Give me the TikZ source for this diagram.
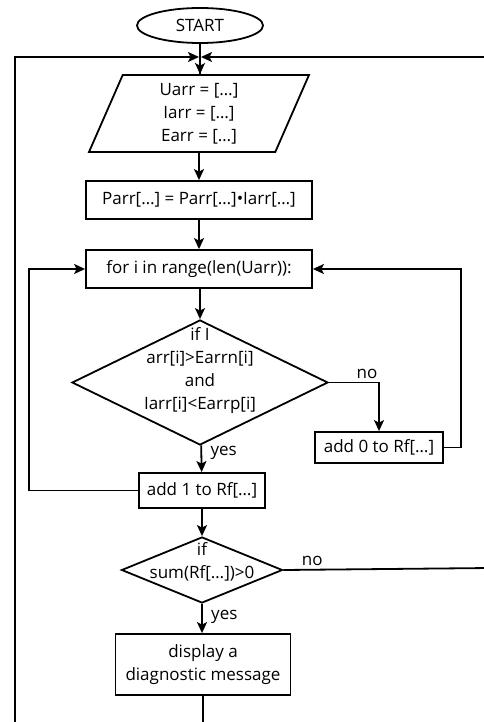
\documentclass[tikz,border=0pt]{standalone}
\usepackage{fontspec}
\setmainfont{Open Sans}
\usetikzlibrary{shapes.geometric,arrows.meta,positioning}

\begin{document}
\begin{tikzpicture}
        [x=1pt, y=-1pt, font=\fontsize{17}{23}\selectfont,
        box/.style={rectangle, draw, line width=1.8pt, inner sep=0pt, align=center},
        terminal/.style={ellipse, draw, line width=1.8pt, inner sep=0pt, minimum width=126pt, minimum height=35pt},
        io/.style={trapezium, trapezium left angle=61, trapezium right angle=119, trapezium stretches body,
            draw, line width=1.8pt, inner sep=0pt, align=center, minimum width=220pt, minimum height=77pt},
        decision/.style={diamond, draw, line width=1.8pt, inner sep=0pt},
        line/.style={line width=1.8pt, black},
        flow/.style={line width=1.8pt, black, -{Stealth[length=11pt, width=10pt, inset=2.5pt]}}]

        \useasboundingbox (0,0) rectangle (484,722);
        \clip (0,0) rectangle (484,722);

        \node[terminal] (start) at (200,25.5) {START};
        \node[io] (input) at (199,113.5) {Uarr = […]\\Iarr = […]\\Earr = […]};
        \node[box, minimum width=226pt, minimum height=38pt] (parr) at (199,200) {Parr[…] = Parr[…]•Iarr[…]};
        \node[box, minimum width=226pt, minimum height=38pt] (loop) at (199,269) {for i in range(len(Uarr)):};
        \node[decision, minimum width=256pt, minimum height=125pt,
            label={[align=center, yshift=12pt]center:{if I\\arr[i]>Earrn[i]\\and\\Iarr[i]<Earrp[i]}}] (cond) at (200,382.5) {};
        \node[box, minimum width=128pt, minimum height=31pt] (addzero) at (379,447.5) {add 0 to Rf[…]};
        \node[box, minimum width=126pt, minimum height=35pt] (addone) at (202,490.5) {add 1 to Rf[…]};
        \node[decision, minimum width=161pt, minimum height=66pt,
            label={[align=center, yshift=8pt]center:{if\\sum(Rf[…])>0}}] (check) at (202,570) {};
        \node[box, minimum width=175pt, minimum height=61pt] (msg) at (203,664.5) {display a\\diagnostic message};

        \coordinate (merge) at (200,57);
        \coordinate (leftend) at (15,730);
        \coordinate (rightend) at (490,57);
        \coordinate (noend) at (490,568);
        \coordinate (msgend) at (203,730);

        % main column
        \draw[line] (start) -- (start.south |- input.north);
        \draw[flow] (start.south |- merge) -- (start.south |- input.north);
        \draw[flow] (input.south -| parr) -- (parr);
        \draw[flow] (parr) -- (loop);
        \draw[flow] (loop.south -| cond) -- (cond);
        \draw[flow] (cond) -- node[right, pos=0.3, xshift=5pt] {yes} (addone);
        \draw[flow] (addone) -- (check);
        \draw[flow] (check) -- node[right, pos=0.45, xshift=5pt] {yes} (check.south |- msg.north);
        \draw[line] (msg) -- (msgend);

        % loop back edges
        \draw[flow] (cond.east) -| node[above, pos=0.38] {no} (addzero);
        \draw[flow] (addzero.east) -- ++(17,0) |- (loop.east);
        \draw[flow] (addone.west) -- ++(-109,0) |- (loop.west);

        % outer return edges
        \draw[flow] (leftend) |- ([xshift=-1pt]merge);
        \draw[flow] (rightend) -- ([xshift=1pt]merge);
        \draw[line] (check.east) -- node[above, pos=0.14] {no} (noend);

    \end{tikzpicture}
\end{document}
